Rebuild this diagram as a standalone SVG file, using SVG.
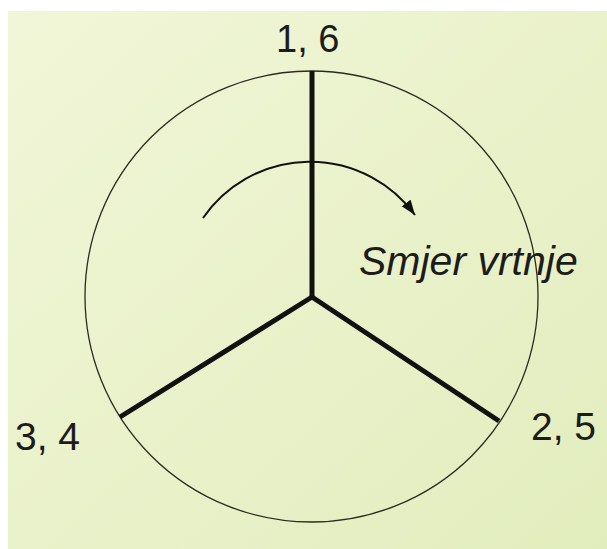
<svg xmlns="http://www.w3.org/2000/svg" width="607" height="549" viewBox="0 0 607 549">
  <defs>
    <linearGradient id="bg" x1="0" y1="0" x2="1" y2="1">
      <stop offset="0" stop-color="#f1f6d8"/>
      <stop offset="1" stop-color="#e2edbd"/>
    </linearGradient>
    <marker id="ah" markerUnits="userSpaceOnUse" markerWidth="16" markerHeight="12" refX="15" refY="6" orient="auto">
      <path d="M0,0.5 L15,6 L0,11.5 z" fill="#111"/>
    </marker>
    <style>
      .lbl { font-family: "Liberation Sans", Arial, sans-serif; fill: #1c1c1c; }
      .spoke { stroke: #111; stroke-width: 5; fill: none; }
    </style>
  </defs>
  <rect x="0" y="0" width="607" height="549" fill="#ffffff"/>
  <rect x="8" y="11" width="599" height="538" fill="url(#bg)"/>

  <g id="rotor">
    <ellipse cx="311.5" cy="296.5" rx="226.5" ry="225.5" fill="none" stroke="#2a2a1e" stroke-width="1.3"/>
  </g>

  <g id="connectors">
    <path class="spoke" d="M312 71 L312 297"/>
    <path class="spoke" d="M312 297 L120 417"/>
    <path class="spoke" d="M312 297 L499 421"/>
    <path d="M203 218 A130 130 0 0 1 415 215" fill="none" stroke="#111" stroke-width="2" marker-end="url(#ah)"/>
  </g>

  <g id="label-16"><text class="lbl" x="276" y="52" font-size="38">1, 6</text></g>
  <g id="label-34"><text class="lbl" x="15" y="450" font-size="39">3, 4</text></g>
  <g id="label-25"><text class="lbl" x="531" y="440" font-size="39">2, 5</text></g>
  <g id="label-smjer"><text class="lbl" x="359" y="275" font-size="41" font-style="italic">Smjer vrtnje</text></g>
</svg>
